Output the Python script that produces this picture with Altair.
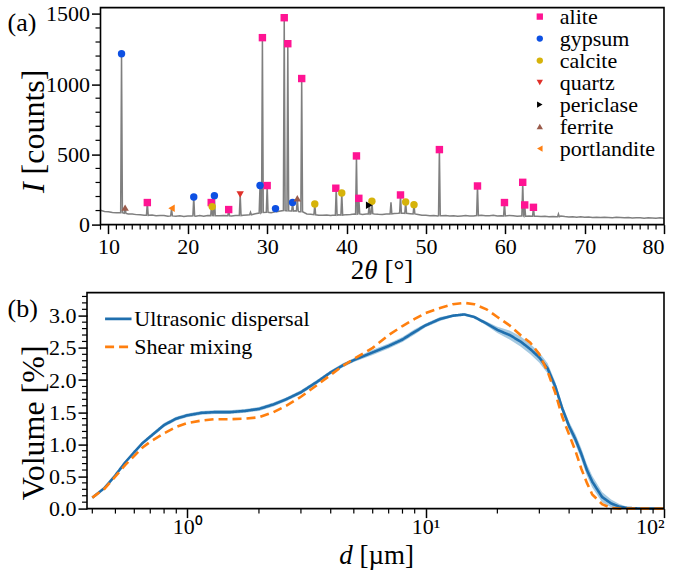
import altair as alt
import numpy as np
import pandas as pd

FONT = "Liberation Serif"

# ---------------- (a) XRD pattern ----------------
base_tt = np.arange(9.0, 80.01, 0.5)
base_I = [102, 93, 91, 86, 85, 79, 83, 75, 76, 71, 70, 67, 66, 68, 63, 64, 65, 60, 64, 59,
          63, 58, 62, 61, 60, 64, 60, 65, 66, 62, 63, 64, 62, 61, 64, 63, 66, 69, 72, 77,
          82, 87, 88, 85, 91, 95, 101, 97, 96, 99, 92, 85, 76, 73, 70, 67, 66, 69, 64, 68,
          70, 67, 71, 72, 75, 76, 72, 75, 79, 76, 73, 72, 75, 76, 79, 80, 83, 79, 78, 75,
          72, 67, 66, 63, 65, 62, 63, 64, 61, 63, 60, 62, 64, 61, 62, 65, 66, 63, 63, 66,
          61, 63, 62, 65, 63, 60, 62, 59, 61, 58, 60, 57, 59, 56, 58, 56, 61, 57, 54, 56,
          53, 55, 52, 54, 51, 53, 50, 52, 51, 49, 52, 50, 48, 50, 47, 49, 48, 46, 49, 47,
          45, 48, 46]

peak_tt = [11.65, 12.1, 14.9, 17.95, 20.75, 23.0, 23.35, 25.15, 26.6, 27.9, 29.1, 29.4, 30.0,
           31.05, 32.15, 32.6, 33.2, 33.8, 34.35, 36.0, 38.7, 39.4, 41.25, 41.55, 42.85,
           43.2, 45.6, 46.8, 47.45, 48.5, 51.7, 56.5, 59.9, 62.2, 62.45, 63.55, 66.7]
peak_I = [1210, 125, 157, 110, 197, 157, 206, 107, 214, 88, 278, 1331, 278,
          114, 1473, 1288, 157, 187, 1040, 147, 259, 225, 489, 187, 138,
          166, 159, 211, 161, 142, 534, 275, 157, 301, 140, 123, 76]
peak_base = [84, 80, 66, 62, 62, 64, 63, 63, 64, 70, 82, 86, 88,
             90, 100, 98, 96, 98, 92, 70, 67, 68, 74, 76, 75,
             78, 76, 82, 80, 76, 63, 64, 62, 62, 60, 59, 56]

mk_tt = [14.9, 22.95, 25.15, 29.4, 30.0, 32.15, 32.6, 34.35, 38.65, 41.25, 41.55, 46.8, 51.7,
         56.5, 59.9, 62.2, 62.45, 63.55,
         11.65, 20.75, 23.35, 29.1, 31.05, 33.2,
         23.07, 36.0, 39.4, 43.2, 47.45, 48.5,
         26.6, 42.85, 12.1, 33.8, 17.95]
mk_I = [157, 157, 107, 1331, 278, 1473, 1288, 1040, 259, 489, 187, 211, 534,
        275, 157, 301, 140, 123,
        1217, 197, 206, 278, 114, 157,
        128, 147, 225, 166, 161, 142,
        214, 138, 121, 187, 116]
mk_phase = (["alite"] * 18 + ["gypsum"] * 6 + ["calcite"] * 6 +
            ["quartz", "periclase", "ferrite", "ferrite", "portlandite"])

phases = ["alite", "gypsum", "calcite", "quartz", "periclase", "ferrite", "portlandite"]
phase_colors = ["#ff1493", "#0d50e3", "#d6b30a", "#e0302a", "#000000", "#9a5b4b", "#ff8012"]
phase_shapes = ["square", "circle", "circle", "triangle-down", "triangle-right",
                "triangle-up", "triangle-left"]

x_major_a = [10, 20, 30, 40, 50, 60, 70, 80]
x_minor_a = [v for v in range(9, 81) if v % 10 != 0]
y_major_a = [0, 500, 1000, 1500]
y_minor_a = [v for v in range(100, 1600, 100) if v % 500 != 0]

# ---------------- (b) particle size distribution ----------------
d_um = [0.4, 0.45, 0.5, 0.55, 0.6, 0.65, 0.7, 0.8, 0.9, 1.0, 1.15, 1.3, 1.5, 1.75, 2.0, 2.3,
        2.6, 3.0, 3.5, 4.0, 4.5, 5.0, 6.0, 7.0, 8.0, 9.0, 10.0, 11.5, 13.0, 14.5, 16.0, 18.0,
        20.0, 22.5, 25.0, 27.5, 30.0, 32.5, 35.0, 37.5, 40.0, 42.5, 45.0, 47.5, 50.0, 55.0,
        60.0, 65.0, 70.0, 80.0, 90.0, 100.0]
vol_ultra = [0.17, 0.32, 0.52, 0.72, 0.88, 1.02, 1.12, 1.30, 1.40, 1.45, 1.49, 1.50, 1.50,
             1.52, 1.55, 1.62, 1.70, 1.81, 1.97, 2.12, 2.23, 2.31, 2.43, 2.53, 2.63, 2.75,
             2.85, 2.95, 3.00, 3.02, 2.98, 2.88, 2.78, 2.70, 2.60, 2.48, 2.35, 2.18, 1.90,
             1.55, 1.28, 1.08, 0.85, 0.60, 0.42, 0.18, 0.08, 0.03, 0.01, 0.0, 0.0, 0.0]
vol_ultra_err = [0.01, 0.01, 0.02, 0.02, 0.02, 0.02, 0.03, 0.03, 0.03, 0.03, 0.03, 0.03, 0.03,
                 0.03, 0.03, 0.03, 0.03, 0.03, 0.03, 0.03, 0.03, 0.03, 0.04, 0.04, 0.04, 0.04,
                 0.03, 0.03, 0.02, 0.02, 0.02, 0.03, 0.05, 0.07, 0.08, 0.08, 0.08, 0.08, 0.07,
                 0.06, 0.07, 0.08, 0.09, 0.09, 0.09, 0.08, 0.06, 0.04, 0.02, 0.0, 0.0, 0.0]
vol_shear = [0.17, 0.31, 0.50, 0.68, 0.82, 0.95, 1.04, 1.17, 1.27, 1.33, 1.37, 1.39, 1.39,
             1.40, 1.42, 1.50, 1.60, 1.74, 1.92, 2.08, 2.22, 2.33, 2.50, 2.70, 2.84, 2.95,
             3.04, 3.12, 3.18, 3.20, 3.18, 3.10, 2.98, 2.85, 2.70, 2.58, 2.40, 2.13, 1.80,
             1.42, 1.15, 0.90, 0.62, 0.40, 0.22, 0.07, 0.01, 0.0, 0.0, 0.0, 0.0, 0.0]
series_names = ["Ultrasonic dispersal", "Shear mixing"]

x_major_b = [1, 10, 100]
x_minor_b = [0.4, 0.5, 0.6, 0.7, 0.8, 0.9, 2, 3, 4, 5, 6, 7, 8, 9,
             20, 30, 40, 50, 60, 70, 80, 90]
y_major_b = [0.0, 0.5, 1.0, 1.5, 2.0, 2.5, 3.0]
y_minor_b = [round(v * 0.1, 1) for v in range(1, 34) if v % 5 != 0]

# ---------------- build tables ----------------
near_peak = [any(abs(t - p) < 0.2 for p in peak_tt) for t in base_tt]
prof = [(t, i) for t, i, n in zip(base_tt, base_I, near_peak) if not n]
for p, h, b in zip(peak_tt, peak_I, peak_base):
    prof += [(p - 0.11, b), (p, h), (p + 0.11, b)]
prof.sort()
df_xrd = pd.DataFrame(prof, columns=["tt", "I"])
df_mk = pd.DataFrame({"tt": mk_tt, "I": mk_I, "phase": mk_phase})

df_psd = pd.DataFrame({
    "d": d_um * 2,
    "v": vol_ultra + vol_shear,
    "series": [series_names[0]] * len(d_um) + [series_names[1]] * len(d_um),
})
df_band = pd.DataFrame({
    "d": d_um,
    "lo": [max(v - e, 0) for v, e in zip(vol_ultra, vol_ultra_err)],
    "hi": [v + e for v, e in zip(vol_ultra, vol_ultra_err)],
})

# layout (both panels share the same left origin; panel (a) starts 13.5 px further right)
W = 577
SHIFT = 13.5
HA, HB = 217, 216
XA = alt.Scale(domain=[9, 80], nice=False, zero=False, range=[SHIFT, W])
YA = alt.Scale(domain=[0, 1545], nice=False)
XB = alt.Scale(type="log", domain=[0.38, 100], nice=False)
YB = alt.Scale(domain=[0, 3.36], nice=False)

AXK = dict(labelFont=FONT, labelFontSize=22, labelColor="black", tickColor="black",
           tickSize=9, tickWidth=1.5, domain=False, grid=False, title=None)
AX_XA = alt.Axis(values=x_major_a, format="d", labelPadding=2.5, **AXK)
AX_YA = alt.Axis(values=y_major_a, format="d", offset=-SHIFT, labelPadding=2, **AXK)
AX_XB = alt.Axis(values=x_major_b, labelPadding=-1,
                 labelExpr="datum.value == 1 ? '10⁰' : datum.value == 10 ? '10¹' : '10²'", **AXK)
AX_YB = alt.Axis(values=y_major_b, format=".1f", labelPadding=2, **AXK)

TS = 27   # x-axis title font size
TY = 32   # y-axis title font size


def txt(t, x, y, size=TS, style="normal", angle=0, align="left", baseline="alphabetic"):
    kw = dict(font=FONT, fontSize=size, fontStyle=style, align=align,
              baseline=baseline, color="black")
    if angle:
        kw["angle"] = angle
    return alt.Chart(pd.DataFrame({"t": [t]})).mark_text(**kw).encode(
        text="t:N", x=alt.value(x), y=alt.value(y))


def frame(x0, w, h):
    return alt.Chart(pd.DataFrame({"k": [0]})).mark_rect(
        fill=None, filled=False, stroke="black", strokeWidth=1.6).encode(
        x=alt.value(x0), x2=alt.value(w), y=alt.value(0), y2=alt.value(h))


def minor_x(vals, scale, ax, h):
    return alt.Chart(pd.DataFrame({"v": vals})).mark_rule(color="black", strokeWidth=1.2).encode(
        x=alt.X("v:Q", scale=scale, axis=ax), y=alt.value(h), y2=alt.value(h + 5))


def minor_y(vals, scale, ax, x0):
    return alt.Chart(pd.DataFrame({"v": vals})).mark_rule(color="black", strokeWidth=1.2).encode(
        y=alt.Y("v:Q", scale=scale, axis=ax), x=alt.value(x0), x2=alt.value(x0 - 5))


line_a = alt.Chart(df_xrd).mark_line(color="#7f7f7f", strokeWidth=1.5).encode(
    x=alt.X("tt:Q", scale=XA, axis=AX_XA),
    y=alt.Y("I:Q", scale=YA, axis=AX_YA),
)
pts_a = alt.Chart(df_mk).mark_point(filled=True, size=55, opacity=1).encode(
    x=alt.X("tt:Q", scale=XA, axis=AX_XA),
    y=alt.Y("I:Q", scale=YA, axis=AX_YA),
    color=alt.Color("phase:N", scale=alt.Scale(domain=phases, range=phase_colors),
                    legend=alt.Legend(title=None, orient="none", legendX=441.8, legendY=-2,
                                      padding=0, labelFont=FONT, labelFontSize=22,
                                      symbolSize=40, rowPadding=-3.3, labelOffset=9,
                                      labelColor="black")),
    shape=alt.Shape("phase:N", scale=alt.Scale(domain=phases, range=phase_shapes)),
)
panel_a = alt.layer(
    line_a, pts_a,
    minor_x(x_minor_a, XA, AX_XA, HA), minor_y(y_minor_a, YA, AX_YA, SHIFT),
    frame(SHIFT, W, HA),
    txt("(a)", -79.5, 23, size=26),
    txt("I", -43.5, 185.5, size=TY, style="italic", angle=270),
    txt("[counts]", -43.5, 166.8, size=TY, angle=270),
    txt("2", 263.7, 271.2),
    txt("θ", 277.2, 271.2, style="italic"),
    txt("[°]", 297.5, 271.2),
).properties(width=W, height=HA)

band_b = alt.Chart(df_band).mark_area(color="#1f77b4", opacity=0.4).encode(
    x=alt.X("d:Q", scale=XB, axis=AX_XB), y=alt.Y("lo:Q", scale=YB, axis=AX_YB), y2="hi:Q")
lines_b = alt.Chart(df_psd).mark_line(strokeWidth=2.6).encode(
    x=alt.X("d:Q", scale=XB, axis=AX_XB),
    y=alt.Y("v:Q", scale=YB, axis=AX_YB),
    color=alt.Color("series:N", scale=alt.Scale(domain=series_names, range=["#1f6fae", "#ff7f0e"]),
                    legend=alt.Legend(title=None, orient="none", legendX=16.3, legendY=11.3,
                                      padding=0, labelFont=FONT, labelFontSize=22,
                                      symbolType="stroke", symbolSize=700, symbolStrokeWidth=2.6,
                                      rowPadding=2, labelOffset=1, labelLimit=400,
                                      labelColor="black")),
    strokeDash=alt.StrokeDash("series:N", scale=alt.Scale(domain=series_names, range=[[1, 0], [9, 5]]),
                              legend=None),
)
panel_b = alt.layer(
    band_b, lines_b,
    minor_x(x_minor_b, XB, AX_XB, HB), minor_y(y_minor_b, YB, AX_YB, 0),
    frame(0, W, HB),
    txt("(b)", -79.5, 24, size=26),
    txt("Volume [%]", -43.5, 130.3, size=TY, angle=270, align="center"),
    txt("d", 252.2, 271.5, style="italic"),
    txt("[µm]", 272.5, 271.5),
).properties(width=W, height=HB)

chart = alt.vconcat(panel_a, panel_b, spacing=7).resolve_scale(
    color="independent", shape="independent", strokeDash="independent",
    x="independent", y="independent",
).resolve_legend(color="independent", shape="independent", strokeDash="independent").properties(
    padding={"left": 7, "top": 2.6, "right": 0, "bottom": 2}
).configure(font=FONT).configure_view(stroke=None)

chart.save("out.html", embed_options={"renderer": "svg", "actions": False})
